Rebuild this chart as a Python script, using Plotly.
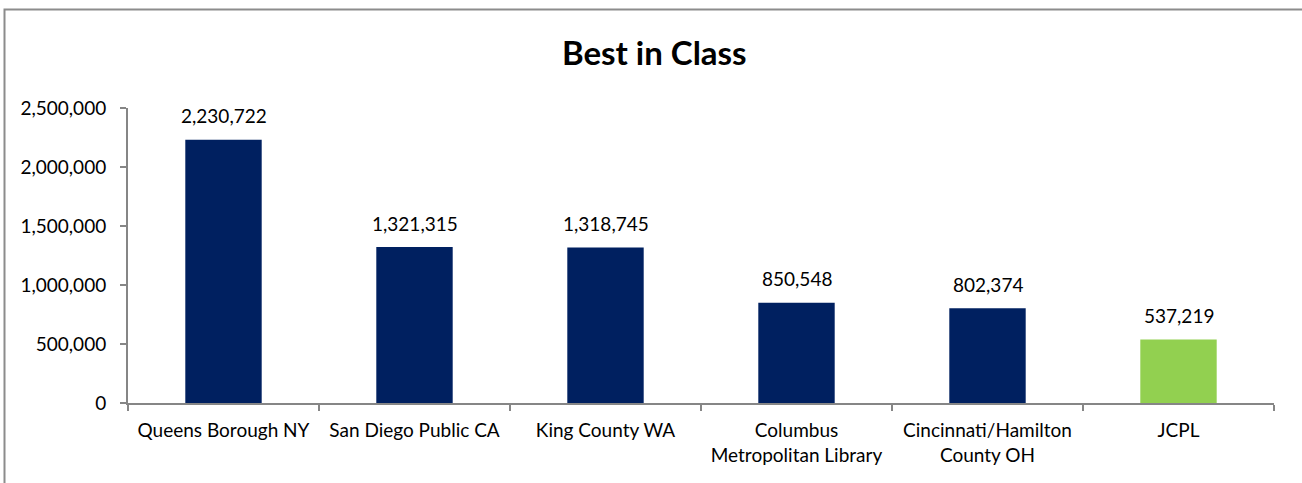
import plotly.graph_objects as go

categories = ["Queens Borough NY", "San Diego Public CA", "King County WA",
              "Columbus<br>Metropolitan Library", "Cincinnati/Hamilton<br>County OH", "JCPL"]
values = [2230722, 1321315, 1318745, 850548, 802374, 537219]
bar_colors = ["#002060", "#002060", "#002060", "#002060", "#002060", "#92D050"]
y_ticks = [0, 500000, 1000000, 1500000, 2000000, 2500000]
y_tick_labels = ["0", "500,000", "1,000,000", "1,500,000", "2,000,000", "2,500,000"]

FONT = "Lato"
AXIS_COLOR = "#868686"
FS = 19

fig = go.Figure()
fig.add_trace(go.Bar(x=categories, y=values, marker=dict(color=bar_colors, line=dict(width=0)),
                     hoverinfo="skip"))

for c, v in zip(categories, values):
    fig.add_annotation(x=c, y=v, text=f"{v:,}", showarrow=False, yanchor="middle", yshift=24,
                       font=dict(family=FONT, size=FS, color="#000000"))

fig.update_layout(
    width=1302, height=483,
    margin=dict(l=128, r=28, t=108, b=80),
    paper_bgcolor="white", plot_bgcolor="white",
    bargap=0.6,
    showlegend=False,
    title=dict(text="<b>Best in Class</b>", x=0.5025, xanchor="center", y=0.89, yanchor="middle",
               font=dict(family=FONT, size=33, color="#000000")),
    font=dict(family=FONT, size=FS, color="#000000"),
)
fig.update_yaxes(range=[0, 2500000], tickvals=y_ticks, ticktext=y_tick_labels,
                 showgrid=False, zeroline=False, showline=True, linecolor=AXIS_COLOR, linewidth=2,
                 ticks="outside", ticklen=6, tickcolor=AXIS_COLOR, tickwidth=2,
                 ticklabelstandoff=10,
                 tickfont=dict(family=FONT, size=FS, color="#000000"))
fig.update_xaxes(showgrid=False, showline=True, linecolor=AXIS_COLOR, linewidth=2,
                 ticks="outside", tickson="boundaries", ticklen=6, tickcolor=AXIS_COLOR, tickwidth=2,
                 ticklabelstandoff=9,
                 tickfont=dict(family=FONT, size=FS, color="#000000"))

# outer chart border
fig.add_shape(type="rect", xref="paper", yref="paper",
              x0=(4.5 - 128) / 1146, x1=1.1, y0=-0.5, y1=1 + (108 - 9.5) / 295,
              line=dict(color="#8c8c8c", width=2), layer="below")

fig.write_html("out.html", config={"displayModeBar": False, "staticPlot": True},
               post_script="document.body.style.margin='0';document.body.style.overflow='hidden';")
